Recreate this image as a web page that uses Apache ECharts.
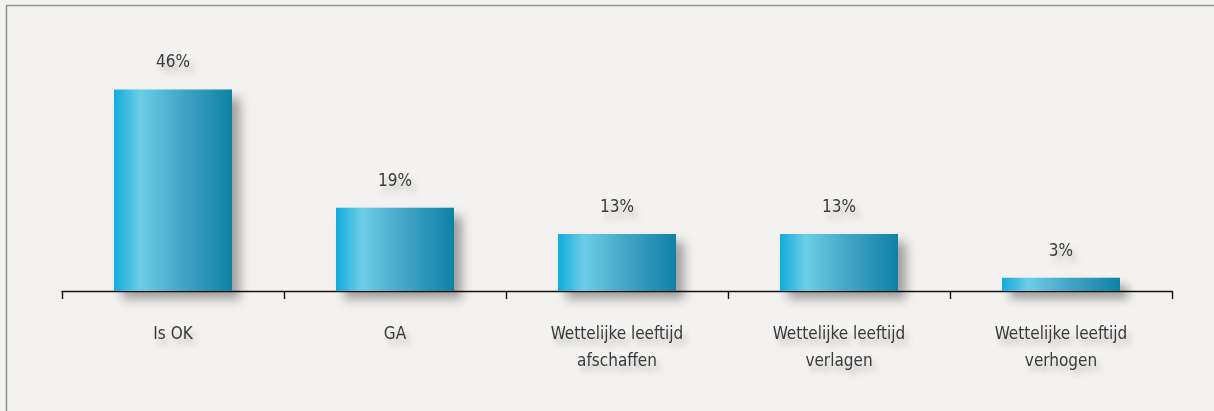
<!DOCTYPE html>
<html>
<head>
<meta charset="utf-8">
<script src="https://cdn.jsdelivr.net/npm/echarts@6/dist/echarts.min.js"></script>
<style>
html,body{margin:0;padding:0;background:#f3f2f0;}
#c{width:1214px;height:411px;}
</style>
</head>
<body>
<div id="c"></div>
<script>
const categories = ['Is OK', 'GA', 'Wettelijke leeftijd\nafschaffen', 'Wettelijke leeftijd\nverlagen', 'Wettelijke leeftijd\nverhogen'];
const values = [46, 19, 13, 13, 3];

const FONT = '"Liberation Sans Narrow", "DejaVu Sans Condensed", "Liberation Sans", sans-serif';
const chart = echarts.init(document.getElementById('c'));
chart.setOption({
  backgroundColor: '#f3f2f0',
  animation: false,
  graphic: [{
    type: 'rect', z: -10, silent: true,
    shape: { x: 6.5, y: 5.5, width: 1230, height: 430 },
    style: { fill: '#f3f2f0', stroke: '#8a9d85', lineWidth: 1.6 }
  }],
  grid: { left: 62, right: 42, top: 72, bottom: 120 },
  xAxis: {
    type: 'category',
    data: categories,
    axisLine: { lineStyle: { color: '#111', width: 1.4 } },
    axisTick: { show: true, alignWithLabel: false, length: 8, lineStyle: { color: '#111', width: 1.4 } },
    axisLabel: {
      color: '#3a3a3a', fontFamily: FONT, fontSize: 17, lineHeight: 27, margin: 30,
      interval: 0,
      textShadowColor: 'rgba(0,0,0,0.22)', textShadowBlur: 6, textShadowOffsetX: 4, textShadowOffsetY: 6
    }
  },
  yAxis: { type: 'value', min: 0, max: 50, show: false, splitLine: { show: false } },
  series: [{
    type: 'bar',
    data: values,
    barWidth: 118,
    itemStyle: {
      color: new echarts.graphic.LinearGradient(0, 0, 1, 0, [
        { offset: 0, color: '#12acdb' },
        { offset: 0.22, color: '#6ccde6' },
        { offset: 0.6, color: '#41a3c4' },
        { offset: 1, color: '#0e82a5' }
      ]),
      shadowColor: 'rgba(0,0,0,0.35)', shadowBlur: 10, shadowOffsetX: 8, shadowOffsetY: 8
    },
    label: {
      show: true, position: 'top', distance: 18,
      formatter: '{c}%',
      color: '#3a3a3a', fontFamily: FONT, fontSize: 17,
      textShadowColor: 'rgba(0,0,0,0.22)', textShadowBlur: 6, textShadowOffsetX: 4, textShadowOffsetY: 6
    }
  }]
});
</script>
</body>
</html>
